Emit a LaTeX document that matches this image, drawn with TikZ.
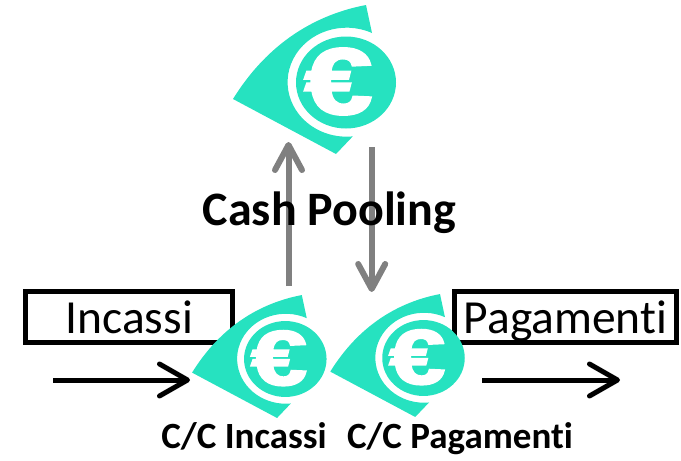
\documentclass[tikz,border=0pt]{standalone}
\usepackage{fontspec}
\setmainfont{Carlito}[Ligatures=NoCommon]
\newfontfamily\eurofont{Liberation Sans Bold}[FakeBold=2.5]
\usetikzlibrary{arrows.meta}
\definecolor{coinTeal}{HTML}{26E2C0}
\definecolor{poolGray}{HTML}{808080}
\tikzset{
  coin/.pic={
    \fill[coinTeal] (-113,16.5) .. controls (-78,-40) and (-30,-68) .. (20,-77.5) -- (26,-49.5)
      arc[start angle=-64.5,end angle=-276,x radius=59,y radius=54.5] -- (-10,71.5) -- cycle;
    \fill[coinTeal] (0,0) ellipse[x radius=50,y radius=46];
    \node[text=white,font=\eurofont\fontsize{94}{94}\selectfont,inner sep=0pt,xscale=1.3,transform shape] (-euro) at (-7.5,-1) {€};
  },
  labelbox/.style={draw,line width=5pt,inner sep=0pt,minimum height=51pt,text height=34pt,text depth=2pt,font=\fontsize{47.5}{47.5}\selectfont},
  caption/.style={inner sep=0pt,anchor=base,font=\bfseries\fontsize{37}{37}\selectfont},
  flow/.style={line width=5pt,-{Straight Barb[length=28pt,width=32pt,round]}},
  pool/.style={poolGray,line width=6pt,-{Straight Barb[length=25pt,width=27pt,round]}}
}
\begin{document}
\begin{tikzpicture}[x=1pt,y=-1pt]
  \useasboundingbox (0,0) rectangle (681,461);
  \node[labelbox,minimum width=207.5pt] (incassi) at (129.2,317) {Incassi};
  \node[labelbox,minimum width=222pt] (pagamenti) at (565.5,317) {Pagamenti};
  \pic (top) at (346,82.5) {coin};
  \pic[scale=.825] (left) at (285.3,359) {coin};
  \pic[scale=.825] (right) at (423.5,358) {coin};
  \coordinate (upStart) at (288.5,286);
  \coordinate (upEnd) at (288.5,142);
  \coordinate (downStart) at (371.7,147);
  \coordinate (downEnd) at (371.7,292);
  \coordinate (inStart) at (53,380);
  \coordinate (inEnd) at (190,380);
  \coordinate (outStart) at (482,380);
  \coordinate (outEnd) at (620,380);
  \draw[pool] (upStart) -- (upEnd);
  \draw[pool] (downStart) -- (downEnd);
  \draw[flow] (inStart) -- (inEnd);
  \draw[flow] (outStart) -- (outEnd);
  \node[inner sep=0pt,anchor=base,font=\bfseries\fontsize{48}{48}\selectfont] (pooling) at (329.5,225.5) {Cash Pooling};
  \node[caption] (ccIncassi) at (244,448.5) {C/C Incassi};
  \node[caption] (ccPagamenti) at (460,448.5) {C/C Pagamenti};
\end{tikzpicture}
\end{document}
